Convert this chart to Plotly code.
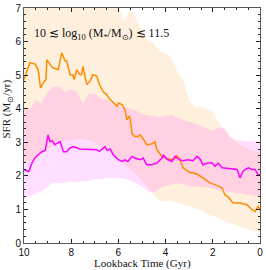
import plotly.graph_objects as go

# ---- data ----
# median lines
orange_x = [10, 9.75, 9.53, 9.4, 9.3, 9.19, 9.07, 9.03, 8.9, 8.8, 8.7, 8.55, 8.4, 8.26, 8.19, 8.05,
            7.93, 7.88, 7.76, 7.63, 7.56, 7.5, 7.34, 7.2, 7.08, 6.92, 6.8, 6.65, 6.5, 6.35, 6.2, 6.05,
            6.0, 5.85, 5.72, 5.64, 5.55, 5.5, 5.42, 5.3, 5.17, 5.08, 4.95, 4.8, 4.6, 4.45, 4.37, 4.15,
            3.95, 3.73, 3.6, 3.52, 3.4, 3.26, 2.97, 2.84, 2.63, 2.42, 2.25, 2.12, 1.91, 1.78, 1.61,
            1.48, 1.36, 1.14, 0.85, 0.55, 0.34, 0.21, 0.08, 0]
orange_y = [4.87, 5.37, 5.33, 5.16, 4.62, 4.77, 4.87, 5.46, 5.33, 5.23, 5.2, 5.16, 5.67, 5.42, 5.42, 5.01,
            5.01, 4.87, 5.16, 5.01, 5.01, 5.26, 4.72, 4.82, 5.01, 4.97, 4.72, 4.51, 4.42, 4.27, 4.17, 4.07,
            4.17, 4.12, 3.97, 3.67, 3.78, 3.7, 3.25, 3.17, 3.17, 3.22, 3.1, 2.93, 2.95, 3.01, 2.78, 2.57,
            2.52, 2.48, 2.52, 2.6, 2.5, 2.24, 2.09, 2.09, 2.04, 1.94, 1.84, 1.79, 1.74, 1.69, 1.64,
            1.43, 1.38, 1.19, 1.19, 1.14, 0.99, 0.94, 1.09, 0.99]

magenta_x = [10, 9.8, 9.66, 9.53, 9.4, 9.24, 9.1, 8.98, 8.9, 8.8, 8.7, 8.55, 8.47, 8.33, 8.2, 8.05,
             7.92, 7.63, 7.2, 6.92, 6.8, 6.7, 6.57, 6.48, 6.35, 6.22, 6.0, 5.85, 5.72, 5.6, 5.42, 5.3,
             5.08, 4.95, 4.8, 4.6, 4.37, 4.15, 4.1, 3.95, 3.73, 3.6, 3.4, 3.26, 3.05, 2.84, 2.67, 2.54,
             2.42, 2.2, 2.03, 1.9, 1.78, 1.6, 1.14, 0.97, 0.85, 0.72, 0.5, 0.34, 0.21, 0.08, 0]
magenta_y = [2.18, 2.13, 2.39, 2.54, 2.63, 2.72, 2.76, 3.22, 3.02, 3.05, 2.93, 2.98, 3.02, 2.72, 2.72, 2.83,
             2.87, 2.8, 2.78, 2.78, 2.73, 2.78, 2.87, 2.76, 2.8, 2.63, 2.48, 2.43, 2.48, 2.43, 2.58, 2.53,
             2.48, 2.53, 2.33, 2.33, 2.38, 2.53, 2.63, 2.5, 2.43, 2.58, 2.48, 2.45, 2.48, 2.45, 2.58, 2.5,
             2.33, 2.38, 2.38, 2.28, 2.38, 2.24, 2.19, 2.19, 1.94, 2.14, 2.24, 2.19, 2.19, 2.03, 2.03]

# percentile bands
band_x = [10, 9.75, 9.5, 9.25, 9.0, 8.75, 8.5, 8.25, 8.0, 7.75, 7.5, 7.25, 7.0, 6.75, 6.5, 6.25,
          6.0, 5.75, 5.5, 5.25, 5.0, 4.75, 4.5, 4.25, 4.0, 3.75, 3.5, 3.25, 3.0, 2.75, 2.5, 2.25,
          2.0, 1.75, 1.5, 1.25, 1.0, 0.75, 0.5, 0.25, 0]
orange_upper = [7.6, 7.6, 7.6, 7.6, 7.6, 7.6, 7.6, 7.6, 7.6, 7.6, 7.6, 7.6, 7.6, 7.6, 7.6, 7.6,
                7.1, 6.6, 7.0, 6.7, 6.3, 6.05, 5.95, 5.7, 5.65, 5.5, 5.1, 4.85, 4.25, 4.05, 4.08, 4.0,
                3.9, 3.6, 3.35, 3.15, 3.0, 2.9, 2.8, 2.75, 2.7]
orange_lower = [2.4, 2.45, 2.55, 2.65, 2.8, 2.9, 3.0, 3.05, 3.05, 3.1, 3.1, 3.05, 3.0, 2.9, 2.8, 2.65,
                2.5, 2.35, 2.2, 2.05, 1.85, 1.65, 1.45, 1.25, 1.25, 1.25, 1.2, 1.15, 1.1, 1.05, 0.98, 0.88,
                0.8, 0.75, 0.65, 0.58, 0.52, 0.45, 0.4, 0.36, 0.33]
magenta_upper = [4.05, 3.97, 4.25, 4.17, 4.5, 4.65, 4.68, 4.5, 4.58, 4.5, 4.15, 4.45, 4.45, 4.3, 4.25, 4.15,
                 4.1, 4.05, 4.0, 3.95, 3.85, 3.8, 3.78, 3.75, 3.78, 3.82, 3.72, 3.67, 3.6, 3.55, 3.48, 3.42,
                 3.35, 3.45, 3.42, 3.15, 3.05, 3.05, 3.02, 3.03, 3.05]
magenta_lower = [1.3, 1.4, 1.48, 1.55, 1.68, 1.8, 1.77, 1.8, 1.82, 1.82, 1.83, 1.85, 1.9, 1.9, 1.95, 1.93,
                 1.92, 1.92, 1.85, 1.78, 1.68, 1.55, 1.5, 1.62, 1.7, 1.73, 1.78, 1.75, 1.7, 1.68, 1.66, 1.67,
                 1.62, 1.58, 1.55, 1.52, 1.5, 1.46, 1.42, 1.4, 1.37]

x_ticks = [10, 8, 6, 4, 2, 0]
y_ticks = [0, 1, 2, 3, 4, 5, 6, 7]
label_text = "10 ≲ log<sub>10</sub> (M<sub>*</sub>/M<sub>⊙</sub>) ≲ 11.5"
x_title = "Lookback Time (Gyr)"
y_title = "SFR (M<sub>⊙</sub>/yr)"

ORANGE = "#ff8c00"
MAGENTA = "#ff00ff"
ORANGE_FILL = "rgba(255,140,0,0.13)"
MAGENTA_FILL = "rgba(255,0,255,0.13)"
SERIF = "Liberation Serif"

fig = go.Figure()
fig.add_trace(go.Scatter(x=band_x, y=orange_lower, mode="lines", line=dict(width=0),
                         hoverinfo="skip", showlegend=False))
fig.add_trace(go.Scatter(x=band_x, y=orange_upper, mode="lines", line=dict(width=0),
                         fill="tonexty", fillcolor=ORANGE_FILL, hoverinfo="skip", showlegend=False))
fig.add_trace(go.Scatter(x=band_x, y=magenta_lower, mode="lines", line=dict(width=0),
                         hoverinfo="skip", showlegend=False))
fig.add_trace(go.Scatter(x=band_x, y=magenta_upper, mode="lines", line=dict(width=0),
                         fill="tonexty", fillcolor=MAGENTA_FILL, hoverinfo="skip", showlegend=False))
fig.add_trace(go.Scatter(x=orange_x, y=orange_y, mode="lines", line=dict(color=ORANGE, width=1.5),
                         showlegend=False))
fig.add_trace(go.Scatter(x=magenta_x, y=magenta_y, mode="lines", line=dict(color=MAGENTA, width=1.5),
                         showlegend=False))

axis_common = dict(
    showgrid=False, zeroline=False, showline=True, linecolor="#555555", linewidth=1,
    mirror="allticks", ticks="inside", ticklen=4, tickwidth=1, tickcolor="#222222",
    tickfont=dict(family="Liberation Sans", size=10, color="#111111"),
    automargin=False, ticklabeloverflow="allow",
)

fig.update_xaxes(range=[10, 0], tickvals=x_ticks,
                 minor=dict(dtick=0.5, ticks="inside", ticklen=2, tickcolor="#222222", showgrid=False),
                 **axis_common)
fig.update_yaxes(range=[0, 7], tickvals=y_ticks,
                 minor=dict(dtick=0.2, ticks="inside", ticklen=2, tickcolor="#222222", showgrid=False),
                 **axis_common)

fig.add_annotation(x=0.035, y=0.89, xref="paper", yref="paper", xanchor="left", yanchor="middle",
                   text=label_text, showarrow=False,
                   font=dict(family=SERIF, size=12, color="#111111"))
fig.add_annotation(x=0.5, y=-0.087, xref="paper", yref="paper", xanchor="center", yanchor="middle",
                   text=x_title, showarrow=False,
                   font=dict(family=SERIF, size=11, color="#111111"))
fig.add_annotation(x=-0.07, y=0.57, xref="paper", yref="paper", xanchor="center", yanchor="middle",
                   text=y_title, showarrow=False, textangle=-90,
                   font=dict(family=SERIF, size=11, color="#111111"))

fig.update_layout(width=266, height=270, margin=dict(l=24, r=6, t=8, b=27),
                  plot_bgcolor="white", paper_bgcolor="white", hovermode=False)

fig.write_html("out.html", config={"displayModeBar": False, "staticPlot": True},
               post_script="document.body.style.margin='0';document.body.style.overflow='hidden';")
